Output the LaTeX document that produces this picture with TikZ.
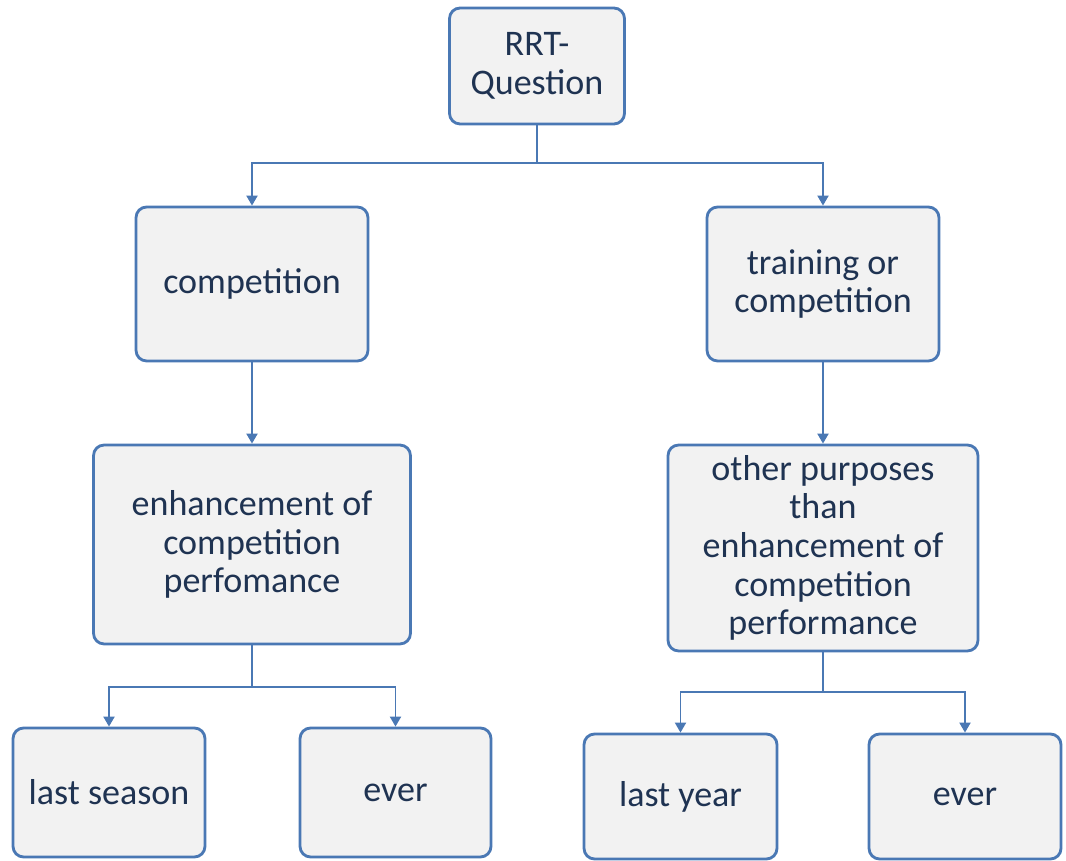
\documentclass[tikz,border=0pt]{standalone}
\usepackage{fontspec}
\setmainfont{Carlito}
\usetikzlibrary{arrows.meta}
\definecolor{boxblue}{HTML}{4A78B4}
\definecolor{boxgray}{HTML}{F2F2F2}
\definecolor{textnavy}{HTML}{1F3352}
\tikzset{
  qbox/.style={draw=boxblue,fill=boxgray,line width=1.6pt,rounded corners=6pt,
    align=center,text=textnavy,font=\fontsize{20.5}{22}\selectfont,inner sep=0pt},
  link/.style={draw=boxblue,line width=1.1pt},
  arrowlink/.style={link,-{Triangle[length=2mm,width=2.2mm]}}
}
\begin{document}
\begin{tikzpicture}[x=0.02cm,y=-0.02cm]
  \useasboundingbox (0,0) rectangle (1066,861);
  \node[qbox,minimum width=3.5cm,minimum height=2.32cm] (rrt) at (537,66) {RRT-\\Question};
  \node[qbox,minimum width=4.64cm,minimum height=3.08cm] (comp) at (252,284) {competition};
  \node[qbox,minimum width=4.64cm,minimum height=3.08cm] (train) at (823,284) {training or\\competition};
  \node[qbox,minimum width=6.34cm,minimum height=3.98cm] (enh) at (252,544.5) {enhancement of\\competition\\perfomance};
  \node[qbox,minimum width=6.2cm,minimum height=4.12cm] (other) at (823,548) {other purposes\\than\\enhancement of\\competition\\performance};
  \node[qbox,minimum width=3.84cm,minimum height=2.58cm] (season) at (109,792.5) {last season};
  \node[qbox,minimum width=3.82cm,minimum height=2.58cm] (everl) at (395.5,792.5) {ever};
  \node[qbox,minimum width=3.86cm,minimum height=2.5cm] (year) at (680.5,796.5) {last year};
  \node[qbox,minimum width=3.84cm,minimum height=2.5cm] (everr) at (965,796.5) {ever};
  % connectors
  \coordinate (topfork) at (537,163);
  \draw[link] (rrt.south) -- (topfork);
  \draw[arrowlink] (topfork) -| (comp.north);
  \draw[arrowlink] (topfork) -| (train.north);
  \draw[arrowlink] (comp) -- (enh);
  \draw[arrowlink] (train) -- (other);
  \coordinate (leftfork) at (252,687);
  \draw[link] (enh.south) -- (leftfork);
  \draw[arrowlink] (leftfork) -| (season.north);
  \draw[arrowlink] (leftfork) -| (everl.north);
  \coordinate (rightfork) at (823,692);
  \draw[link] (other.south) -- (rightfork);
  \draw[arrowlink] (rightfork) -| (year.north);
  \draw[arrowlink] (rightfork) -| (everr.north);
\end{tikzpicture}
\end{document}
